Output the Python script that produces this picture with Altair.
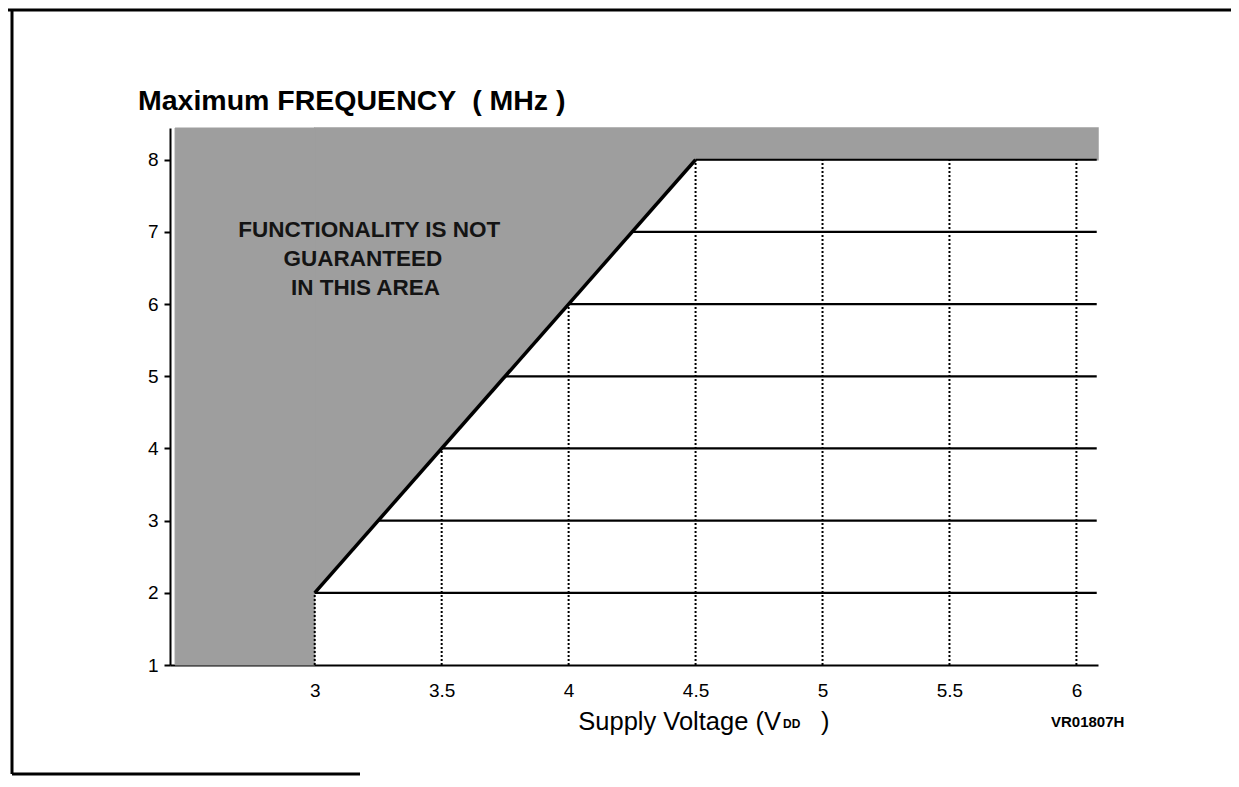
import altair as alt
import pandas as pd

FONT = "Liberation Sans"

# ---- data ----
x_ticks = [3, 3.5, 4, 4.5, 5, 5.5, 6]
y_ticks = [1, 2, 3, 4, 5, 6, 7, 8]

# shaded "not guaranteed" region: left block below 3 V ...
block_v0 = [2.45]
block_v1 = [3.0]
block_f0 = [1.0]
block_f1 = [8.44]
# ... and the part above the limit line
wedge_v = [3.0, 4.5, 6.085]
wedge_lo = [2, 8, 8]
wedge_hi = [8.44, 8.44, 8.44]

# limit line
limit_v = [3.0, 4.5]
limit_f = [2, 8]

# horizontal grid lines: start (on the limit) and end
hgrid_f = [2, 3, 4, 5, 6, 7, 8]
hgrid_start = [3.0, 3.25, 3.5, 3.75, 4.0, 4.25, 4.5]
hgrid_end = [6.08] * 7

# vertical dotted grid lines: bottom and top
vgrid_v = [3.0, 3.5, 4.0, 4.5, 5.0, 5.5, 6.0]
vgrid_top = [2, 4, 6, 8, 8, 8, 8]

note_lines = ["FUNCTIONALITY IS NOT", "GUARANTEED", "IN THIS AREA"]
note_v = [3.215, 3.19, 3.2]
note_f = [7.03, 6.63, 6.23]

XD = [2.43, 6.085]
YD = [1.0, 8.44]
W, H = 928, 537
GRAY = "#9e9e9e"

xs = alt.Scale(domain=XD, nice=False, zero=False)
ys = alt.Scale(domain=YD, nice=False, zero=False)

block_df = pd.DataFrame({"v0": block_v0, "v1": block_v1, "f0": block_f0, "f1": block_f1})
wedge_df = pd.DataFrame({"v": wedge_v, "lo": wedge_lo, "hi": wedge_hi})
limit_df = pd.DataFrame({"v": limit_v, "f": limit_f})
hgrid_df = pd.DataFrame({"f": hgrid_f, "v0": hgrid_start, "v1": hgrid_end})
vgrid_df = pd.DataFrame({"v": vgrid_v, "f0": [1] * len(vgrid_v), "f1": vgrid_top})
note_df = pd.DataFrame({"t": note_lines, "v": note_v, "f": note_f})

block = alt.Chart(block_df).mark_rect(color=GRAY, stroke=GRAY, strokeWidth=1, opacity=1).encode(
    x=alt.X("v0:Q", scale=xs,
            axis=alt.Axis(values=x_ticks, title=None, grid=False, ticks=False, tickSize=0,
                          labelPadding=16, labelFontSize=19, labelFont=FONT,
                          labelColor="black", domainColor="black", domainWidth=2,
                          labelExpr="datum.value % 1 == 0 ? format(datum.value, 'd') : format(datum.value, '.1f')")),
    x2="v1:Q",
    y=alt.Y("f0:Q", scale=ys,
            axis=alt.Axis(values=y_ticks, title=None, grid=False, ticks=True, tickSize=6,
                          tickColor="black", tickWidth=2, format="d",
                          labelPadding=6, labelFontSize=19, labelFont=FONT,
                          labelColor="black", domainColor="black", domainWidth=2)),
    y2="f1:Q",
)

wedge = alt.Chart(wedge_df).mark_area(color=GRAY, stroke=GRAY, strokeWidth=1.5, opacity=1,
                                      interpolate="linear").encode(
    x=alt.X("v:Q", scale=xs), y=alt.Y("lo:Q", scale=ys), y2="hi:Q")

vgrid = alt.Chart(vgrid_df).mark_rule(color="black", strokeWidth=2, strokeDash=[2, 2]).encode(
    x=alt.X("v:Q", scale=xs), y=alt.Y("f0:Q", scale=ys), y2="f1:Q")

hgrid = alt.Chart(hgrid_df).mark_rule(color="black", strokeWidth=2.2).encode(
    x=alt.X("v0:Q", scale=xs), x2="v1:Q", y=alt.Y("f:Q", scale=ys))

limit = alt.Chart(limit_df).mark_line(color="black", strokeWidth=3.5).encode(
    x=alt.X("v:Q", scale=xs), y=alt.Y("f:Q", scale=ys))

note = alt.Chart(note_df).mark_text(font=FONT, fontSize=22.5, fontWeight="bold", color="#141414",
                                    align="center", baseline="middle").encode(
    x=alt.X("v:Q", scale=xs), y=alt.Y("f:Q", scale=ys), text="t:N")

# titles / decorations (pixel offsets relative to the plot area)
title = alt.Chart(pd.DataFrame({"t": ["Maximum FREQUENCY\u00a0\u00a0( MHz )"]})).mark_text(
    font=FONT, fontSize=28.5, fontWeight="bold", align="left", baseline="alphabetic",
    color="black").encode(x=alt.value(-32), y=alt.value(-18), text="t:N")

xt1 = alt.Chart(pd.DataFrame({"t": ["Supply Voltage (V"]})).mark_text(
    font=FONT, fontSize=25.5, align="right", baseline="alphabetic", color="black").encode(
    x=alt.value(611), y=alt.value(602), text="t:N")
xt2 = alt.Chart(pd.DataFrame({"t": ["DD"]})).mark_text(
    font=FONT, fontSize=12, fontWeight="bold", align="left", baseline="alphabetic", color="black").encode(
    x=alt.value(613), y=alt.value(600), text="t:N")
xt3 = alt.Chart(pd.DataFrame({"t": [")"]})).mark_text(
    font=FONT, fontSize=25.5, align="left", baseline="alphabetic", color="black").encode(
    x=alt.value(651), y=alt.value(602), text="t:N")
code = alt.Chart(pd.DataFrame({"t": ["VR01807H"]})).mark_text(
    font=FONT, fontSize=15, fontWeight="bold", align="left", baseline="alphabetic", color="black").encode(
    x=alt.value(881), y=alt.value(599), text="t:N")

frame_top = alt.Chart(pd.DataFrame({"a": [0]})).mark_rule(color="black", strokeWidth=3).encode(
    x=alt.value(-165), x2=alt.value(1064), y=alt.value(-118))
frame_left = alt.Chart(pd.DataFrame({"a": [0]})).mark_rule(color="black", strokeWidth=3).encode(
    x=alt.value(-158), y=alt.value(-118), y2=alt.value(646))
frame_bottom = alt.Chart(pd.DataFrame({"a": [0]})).mark_rule(color="black", strokeWidth=3).encode(
    x=alt.value(-158), x2=alt.value(190), y=alt.value(646))
frame_right = alt.Chart(pd.DataFrame({"a": [0]})).mark_rule(color="#555555", strokeWidth=1.5).encode(
    x=alt.value(1062), y=alt.value(-118), y2=alt.value(-55))

chart = alt.layer(
    block, wedge, vgrid, hgrid, limit, note, title, xt1, xt2, xt3, code,
    frame_top, frame_left, frame_bottom, frame_right,
).properties(
    width=W, height=H,
    autosize=alt.AutoSizeParams(type="none"),
    padding={"left": 162, "top": 120, "right": 133, "bottom": 112},
    background="white",
).configure_view(stroke=None)

chart.save("out.html", embed_options={"renderer": "svg", "actions": False})
